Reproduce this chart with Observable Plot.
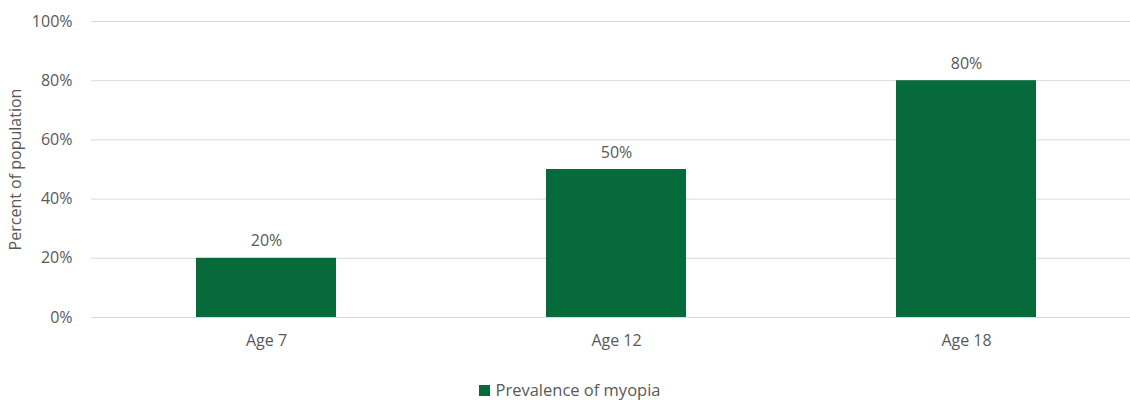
<!DOCTYPE html>
<html>
<head>
<meta charset="utf-8">
<script src="https://cdn.jsdelivr.net/npm/d3@7"></script>
<script src="https://cdn.jsdelivr.net/npm/@observablehq/plot@0.6"></script>
<style>
  body { margin: 0; background: #fff; font-family: "Open Sans", sans-serif; }
  #chart svg { display: block; }
  #legend { width: 1140px; text-align: center; font-size: 16.5px; color: #595959; margin-top: 19px; line-height: 22px; }
  #legend .sw { display: inline-block; width: 11px; height: 11px; background: #066a3a; margin-right: 5px; vertical-align: 0px; }
</style>
</head>
<body>
<div id="chart"></div>
<div id="legend"><span class="sw"></span>Prevalence of myopia</div>
<script>
const categories = ["Age 7", "Age 12", "Age 18"];
const values = [0.20, 0.50, 0.80];
const seriesName = "Prevalence of myopia";
const yTicks = [0, 0.2, 0.4, 0.6, 0.8, 1.0];

const data = categories.map((c, i) => ({category: c, value: values[i]}));
const green = "#066a3a";
const textColor = "#595959";

const chart = Plot.plot({
  width: 1130,
  height: 360,
  marginTop: 21,
  marginBottom: 43,
  marginLeft: 91,
  marginRight: -11,
  style: {fontFamily: "Open Sans", fontSize: "16px", color: textColor, background: "transparent"},
  x: {domain: categories, paddingInner: 0.6, paddingOuter: 0.3, label: null},
  y: {domain: [0, 1], label: null},
  marks: [
    Plot.ruleY(yTicks, {stroke: "#d9d9d9", strokeWidth: 1}),
    Plot.barY(data, {x: "category", y: "value", fill: green}),
    Plot.text(data, {x: "category", y: "value", text: d => Math.round(d.value * 100) + "%", lineAnchor: "bottom", dy: -12, fill: textColor, fontSize: 16}),
    Plot.axisX({tickSize: 0, tickPadding: 17, fontSize: 16, fill: textColor, label: null}),
    Plot.axisY({ticks: yTicks, tickSize: 0, tickPadding: 19, tickFormat: d => Math.round(d * 100) + "%", fontSize: 16, fill: textColor, label: null}),
    Plot.text([seriesName].map(() => "Percent of population"), {frameAnchor: "left", textAnchor: "middle", dx: -76, rotate: -90, fontSize: 16, fill: textColor})
  ]
});
document.getElementById("chart").appendChild(chart);
</script>
</body>
</html>
